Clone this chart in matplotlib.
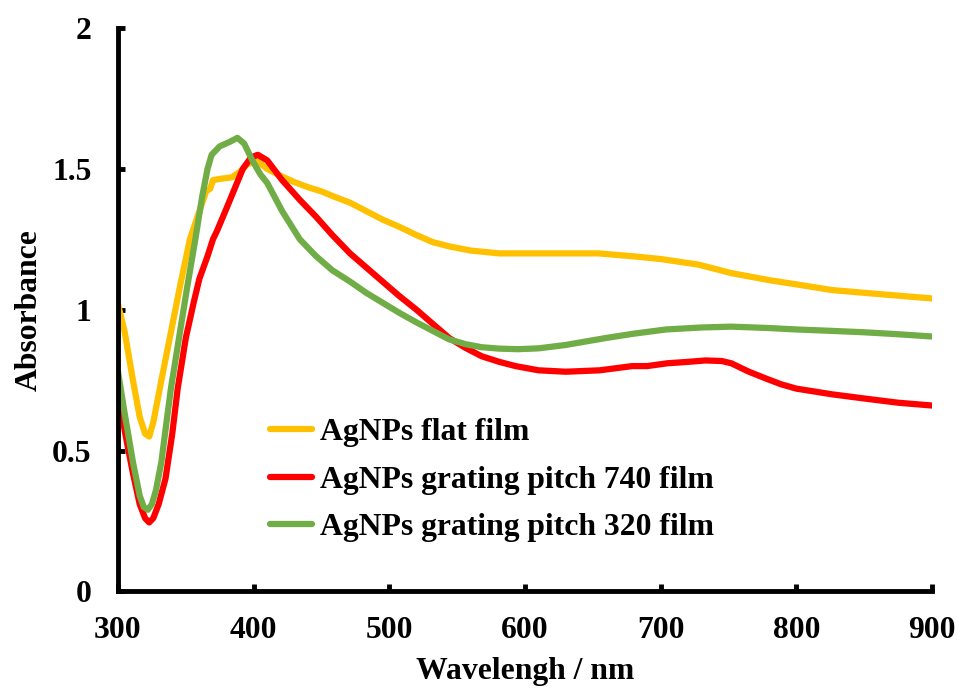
"""Absorbance spectra of AgNPs films (flat vs. grating)."""

import matplotlib

matplotlib.use("Agg")
import matplotlib.pyplot as plt


# flat film (yellow)
wl_flat = [300, 305, 311, 316, 320, 323, 326, 332, 339, 346, 353, 360, 365,
           368, 370, 376, 384, 390, 395, 402, 410, 420, 429, 440, 450, 460,
           471, 485, 495, 507, 520, 532, 544, 560, 581, 603, 630, 654, 679,
           700, 728, 752, 780, 800, 826, 850, 875, 900]
abs_flat = [1.02, 0.92, 0.75, 0.62, 0.56, 0.55, 0.60, 0.75, 0.92, 1.09, 1.25,
            1.35, 1.42, 1.43, 1.46, 1.465, 1.47, 1.49, 1.515, 1.53, 1.50,
            1.475, 1.455, 1.435, 1.42, 1.40, 1.38, 1.345, 1.32, 1.295, 1.265,
            1.24, 1.225, 1.21, 1.20, 1.20, 1.20, 1.20, 1.19, 1.18, 1.16, 1.13,
            1.105, 1.09, 1.07, 1.06, 1.05, 1.04]

# grating pitch 740 (red)
wl_740 = [300, 305, 311, 316, 320, 323, 326, 330, 335, 340, 344, 350, 356,
          360, 366, 370, 373, 380, 386, 392, 398, 403, 410, 421, 434, 446,
          458, 471, 483, 495, 507, 520, 532, 544, 556, 568, 581, 593, 610,
          630, 655, 679, 690, 705, 720, 733, 745, 752, 765, 778, 789, 800,
          826, 850, 875, 900]
abs_740 = [0.72, 0.57, 0.42, 0.31, 0.26, 0.245, 0.26, 0.31, 0.40, 0.56, 0.72,
           0.90, 1.03, 1.11, 1.19, 1.25, 1.28, 1.36, 1.43, 1.50, 1.54, 1.55,
           1.53, 1.46, 1.39, 1.33, 1.265, 1.20, 1.15, 1.10, 1.05, 1.00, 0.95,
           0.90, 0.865, 0.835, 0.815, 0.80, 0.785, 0.78, 0.785, 0.80, 0.80,
           0.81, 0.815, 0.82, 0.818, 0.81, 0.78, 0.755, 0.735, 0.72, 0.70,
           0.685, 0.67, 0.66]

# grating pitch 320 (green)
wl_320 = [300, 305, 311, 316, 319, 322, 325, 328, 332, 336, 339, 345, 351,
          357, 362, 366, 369, 375, 382, 388, 393, 399, 405, 410, 421, 434,
          446, 458, 471, 483, 495, 507, 520, 532, 544, 556, 568, 581, 595,
          610, 630, 660, 680, 704, 730, 752, 780, 800, 826, 850, 875, 900]
abs_320 = [0.78, 0.63, 0.46, 0.34, 0.30, 0.29, 0.31, 0.36, 0.46, 0.61, 0.72,
           0.90, 1.08, 1.25, 1.40, 1.50, 1.55, 1.58, 1.595, 1.61, 1.59, 1.53,
           1.48, 1.45, 1.35, 1.25, 1.19, 1.14, 1.10, 1.06, 1.025, 0.99, 0.955,
           0.925, 0.895, 0.878, 0.867, 0.862, 0.86, 0.863, 0.875, 0.90, 0.915,
           0.93, 0.937, 0.94, 0.935, 0.93, 0.925, 0.92, 0.913, 0.905]

x_ticks = [300, 400, 500, 600, 700, 800, 900]
y_ticks = [0, 0.5, 1, 1.5, 2]
y_tick_labels = ["0", "0.5", "1", "1.5", "2"]

plt.rcParams["font.family"] = ["Liberation Serif", "DejaVu Serif"]
plt.rcParams["font.weight"] = "bold"
plt.rcParams["font.size"] = 22.8

fig = plt.figure(figsize=(9.6, 6.91), dpi=100)
ax = fig.add_axes([0.1229, 0.144, 0.848, 0.8155])

series = [
    (wl_flat, abs_flat, "#FFC000", "AgNPs flat film"),
    (wl_740, abs_740, "#FF0000", "AgNPs grating pitch 740 film"),
    (wl_320, abs_320, "#70AD47", "AgNPs grating pitch 320 film"),
]
for wl, ab, color, label in series:
    ax.plot(wl, ab, color=color, linewidth=4.5, label=label,
            solid_capstyle="round", solid_joinstyle="round")

ax.set_xlim(300, 900)
ax.set_ylim(0, 2)
ax.set_xticks(x_ticks)
ax.set_yticks(y_ticks)
ax.set_yticklabels(y_tick_labels)

for side in ("top", "right"):
    ax.spines[side].set_visible(False)
for side in ("left", "bottom"):
    ax.spines[side].set_linewidth(3.5)

ax.tick_params(axis="both", direction="in", length=5, width=3.5)
ax.tick_params(axis="x", pad=18)
ax.tick_params(axis="y", pad=19)

ax.set_xlabel("Wavelengh / nm", fontweight="bold", labelpad=8)
ax.set_ylabel("Absorbance", fontweight="bold", labelpad=6)

ax.legend(
    loc="upper left",
    bbox_to_anchor=(270 / 960, 1 - 418 / 691),
    bbox_transform=fig.transFigure,
    frameon=False,
    borderpad=0,
    borderaxespad=0,
    handlelength=1.33,
    handletextpad=0.25,
    labelspacing=0.58,
)

fig.savefig("out.png", dpi=100)
